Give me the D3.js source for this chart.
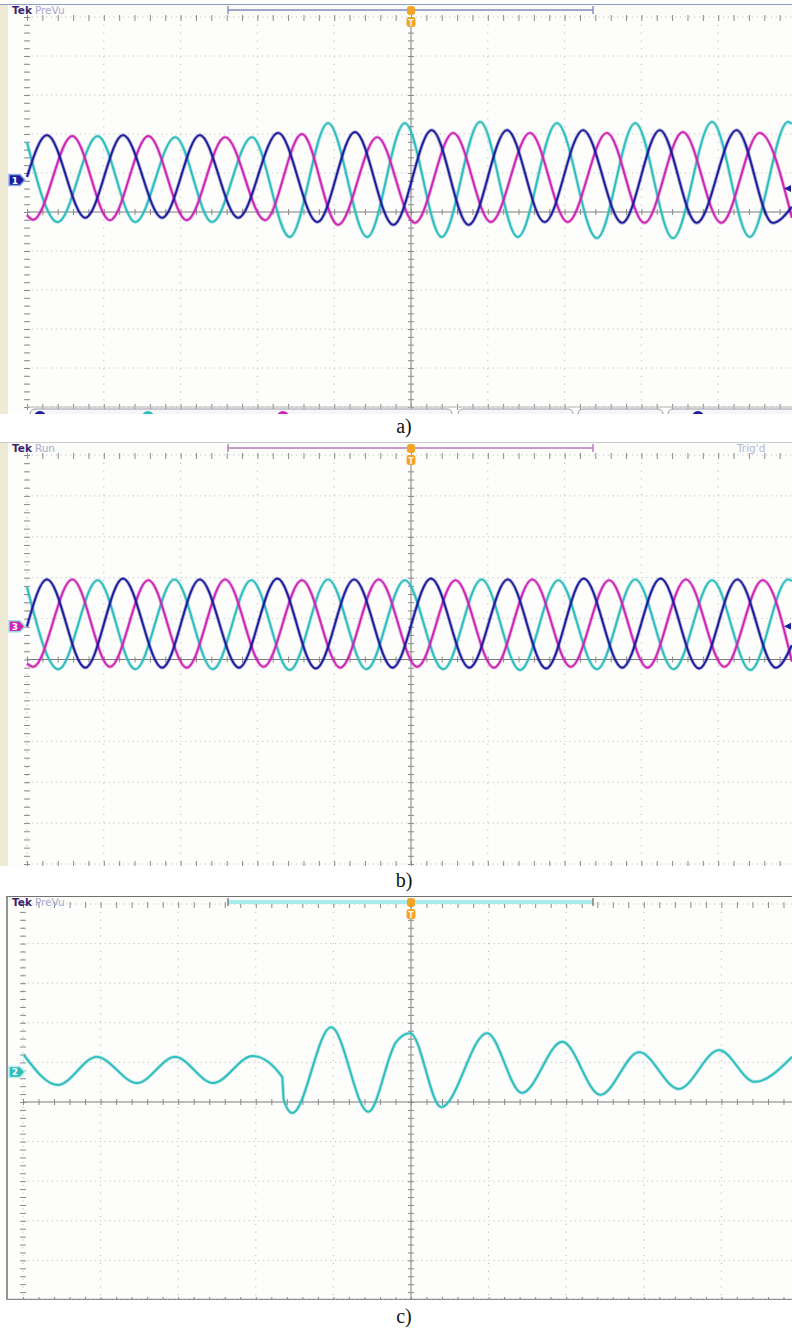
<!DOCTYPE html>
<html>
<head>
<meta charset="utf-8">
<script src="https://cdn.jsdelivr.net/npm/d3@7"></script>
<style>
  body { margin: 0; background: #fff; }
  svg { display: block; }
</style>
</head>
<body>
<div id="scope"></div>
<script>
// Trace points: [time in divisions, level in divisions from centre]
// a) three phases, ch2 (cyan) changes at ~3.35 div
const aCh1 = [[0,0.90],[0.26,1.97],[0.76,-0.15],[1.25,1.97],[1.76,-0.15],[2.25,1.97],[2.75,-0.15],[3.27,2.03],[3.78,-0.26],[4.27,2.05],[4.77,-0.33],[5.27,2.10],[5.75,-0.33],[6.25,2.10],[6.74,-0.26],[7.24,2.10],[7.75,-0.28],[8.24,2.10],[8.72,-0.28],[9.24,2.10],[9.71,-0.28],[9.96,0.13]]
const aCh2 = [[0,1.79],[0.40,-0.26],[0.92,1.95],[1.41,-0.26],[1.93,1.92],[2.41,-0.26],[2.93,1.92],[3.42,-0.64],[3.92,2.28],[4.43,-0.64],[4.92,2.28],[5.40,-0.64],[5.90,2.31],[6.39,-0.64],[6.90,2.28],[7.42,-0.67],[7.92,2.28],[8.41,-0.67],[8.92,2.31],[9.41,-0.64],[9.91,2.31],[9.96,2.26]]
const aCh3 = [[0,-0.08],[0.08,-0.20],[0.59,1.95],[1.08,-0.21],[1.58,1.95],[2.08,-0.21],[2.58,1.92],[3.10,-0.21],[3.58,2.00],[4.05,-0.33],[4.56,1.92],[5.05,-0.28],[5.55,2.03],[6.04,-0.26],[6.55,2.03],[7.04,-0.26],[7.55,2.03],[8.04,-0.28],[8.54,2.05],[9.04,-0.28],[9.54,2.03],[9.96,-0.15]]

// b) balanced three phases
const bCh1 = [[0,0.81],[0.26,1.96],[0.76,-0.20],[1.25,1.98],[1.76,-0.20],[2.25,1.96],[2.76,-0.20],[3.26,1.98],[3.76,-0.22],[4.26,1.96],[4.76,-0.20],[5.26,1.98],[5.76,-0.20],[6.26,1.96],[6.76,-0.22],[7.25,1.98],[7.75,-0.20],[8.25,1.98],[8.75,-0.22],[9.25,1.96],[9.75,-0.20],[9.96,0.35]]
const bCh2 = [[0,1.77],[0.41,-0.24],[0.92,1.94],[1.41,-0.24],[1.92,1.96],[2.42,-0.24],[2.92,1.94],[3.42,-0.26],[3.92,1.96],[4.42,-0.24],[4.92,1.94],[5.42,-0.24],[5.92,1.96],[6.42,-0.26],[6.92,1.94],[7.42,-0.24],[7.92,1.96],[8.42,-0.24],[8.92,1.94],[9.42,-0.26],[9.91,1.96],[9.96,1.92]]
const bCh3 = [[0,-0.10],[0.08,-0.18],[0.59,1.96],[1.08,-0.18],[1.58,1.94],[2.08,-0.20],[2.58,1.96],[3.08,-0.18],[3.58,1.94],[4.08,-0.20],[4.58,1.96],[5.08,-0.18],[5.58,1.94],[6.08,-0.20],[6.58,1.96],[7.08,-0.18],[7.58,1.94],[8.08,-0.20],[8.58,1.96],[9.08,-0.18],[9.58,1.94],[9.96,-0.05]]

// c) single channel with the step
const cCh2 = [[0.01,1.19],[0.45,0.43],[0.95,1.14],[1.47,0.48],[1.96,1.14],[2.45,0.48],[2.96,1.16],[3.34,0.63],[3.36,0.05],[3.47,-0.28],[3.97,1.89],[4.45,-0.25],[4.81,1.52],[4.99,1.74],[5.39,-0.13],[5.98,1.74],[6.43,0.23],[6.95,1.52],[7.44,0.18],[7.94,1.26],[8.45,0.33],[8.97,1.31],[9.43,0.51],[9.91,1.14]]

// channel ground markers (divisions)
const markerLevels = [0.82, 0.81, 0.76]
const markerText = ["1", "3", "2"]
const panelLabels = ["a)", "b)", "c)"]
const panelStates = ["PreVu", "Run", "PreVu"]

const divsX = d3.range(0, 11)
const divsY = d3.range(-5, 6)
const minorX = d3.range(0, 10.01, 0.2)
const minorY = d3.range(-5, 5.01, 0.2)

const colors = { ch1: "#1c1c9c", ch2: "#2dbdbd", ch3: "#cc25b4" }

const width = 792
const height = 1330

const panels = [
    { frameTop: 4, frameBottom: 414, left: 27, top: 17, divW: 76.8, divH: 39,
      labelY: 433, bar: "#7f8abf", barWide: false, strip: true, edge: "#8e9cc8",
      markerFill: colors.ch1, markerStroke: "#8fb0e8",
      traces: [[aCh2, colors.ch2], [aCh3, colors.ch3], [aCh1, colors.ch1]] },
    { frameTop: 442, frameBottom: 866, left: 27, top: 455, divW: 76.8, divH: 40.9,
      labelY: 887, bar: "#b07ab8", barWide: false, strip: true, edge: "#c9c9d2",
      markerFill: colors.ch3, markerStroke: "#9fe0e0",
      traces: [[bCh2, colors.ch2], [bCh3, colors.ch3], [bCh1, colors.ch1]] },
    { frameTop: 896, frameBottom: 1300, left: 23, top: 904, divW: 77.6, divH: 39.6,
      labelY: 1323, bar: "#a8ecec", barWide: true, strip: false, edge: "#707070",
      markerFill: colors.ch2, markerStroke: "#bff0f0",
      traces: [[cCh2, colors.ch2]] },
]

const svg = d3.select("#scope")
    .append("svg")
    .attr("width", width)
    .attr("height", height)

svg.append("rect")
    .attr("width", width)
    .attr("height", height)
    .attr("fill", "#fff")

function drawPanel(p, i) {
    const xScale = d3.scaleLinear()
        .domain([0, 10])
        .range([p.left, p.left + 10 * p.divW])
    const yScale = d3.scaleLinear()
        .domain([-5, 5])
        .range([p.top + 10 * p.divH, p.top])

    svg.append("clipPath")
        .attr("id", "clip" + i)
        .append("rect")
        .attr("x", 0)
        .attr("y", p.frameTop)
        .attr("width", width)
        .attr("height", p.frameBottom - p.frameTop)

    const g = svg.append("g")
        .attr("clip-path", `url(#clip${i})`)

    g.append("rect")
        .attr("x", 0)
        .attr("y", p.frameTop)
        .attr("width", width)
        .attr("height", p.frameBottom - p.frameTop)
        .attr("fill", "#fdfdfc")

    if (p.strip) {
        g.append("rect")
            .attr("x", 0).attr("y", p.frameTop)
            .attr("width", 8).attr("height", p.frameBottom - p.frameTop)
            .attr("fill", "#eeead6")
    } else {
        g.append("line")
            .attr("x1", 7).attr("x2", 7)
            .attr("y1", p.frameTop).attr("y2", p.frameBottom)
            .attr("stroke", p.edge).attr("stroke-width", 1.5)
        g.append("line")
            .attr("x1", 7).attr("x2", width)
            .attr("y1", p.frameBottom - 0.5).attr("y2", p.frameBottom - 0.5)
            .attr("stroke", "#8a8a8a").attr("stroke-width", 1.5)
    }

    g.append("line")
        .attr("x1", p.strip ? 0 : 7).attr("x2", width)
        .attr("y1", p.frameTop + 0.5).attr("y2", p.frameTop + 0.5)
        .attr("stroke", p.edge).attr("stroke-width", 1.2)

    // dotted graticule
    g.append("g").selectAll("line")
        .data(divsX.filter(d => d !== 5))
        .join("line")
        .attr("x1", d => xScale(d)).attr("x2", d => xScale(d))
        .attr("y1", yScale(5)).attr("y2", yScale(-5))
        .attr("stroke", "#b9b9b9")
        .attr("stroke-dasharray", "1.2,6.6")
    g.append("g").selectAll("line")
        .data(divsY.filter(d => d !== 0))
        .join("line")
        .attr("x1", xScale(0)).attr("x2", xScale(10))
        .attr("y1", d => yScale(d)).attr("y2", d => yScale(d))
        .attr("stroke", "#c2c2c2")
        .attr("stroke-dasharray", "1.2,3.6")

    // centre cross with minor ticks
    g.append("line")
        .attr("x1", xScale(0)).attr("x2", xScale(10))
        .attr("y1", yScale(0)).attr("y2", yScale(0))
        .attr("stroke", "#7c7c7c")
    g.append("line")
        .attr("x1", xScale(5)).attr("x2", xScale(5))
        .attr("y1", yScale(5)).attr("y2", yScale(-5))
        .attr("stroke", "#7c7c7c")

    const tickX = d3.axisBottom(xScale).tickValues(minorX).tickSize(6).tickFormat("")
    const tickY = d3.axisLeft(yScale).tickValues(minorY).tickSize(6).tickFormat("")

    const edgeRows = [yScale(0), yScale(5) + 1, yScale(-5)]
    edgeRows.forEach(yy => {
        g.append("g")
            .attr("transform", `translate(0,${yy - 3})`)
            .call(tickX)
            .call(a => a.select(".domain").remove())
            .call(a => a.selectAll("line").attr("stroke", "#8a8a8a"))
    })
    const edgeCols = [xScale(5), xScale(0)]
    edgeCols.forEach(xx => {
        g.append("g")
            .attr("transform", `translate(${xx + 3},0)`)
            .call(tickY)
            .call(a => a.select(".domain").remove())
            .call(a => a.selectAll("line").attr("stroke", "#8a8a8a"))
    })
    if (i === 0) {
        g.append("line")
            .attr("x1", xScale(0)).attr("x2", width)
            .attr("y1", yScale(-5)).attr("y2", yScale(-5))
            .attr("stroke", "#b8b8b8")
    }

    // header
    g.append("rect")
        .attr("x", p.strip ? 8 : 8).attr("y", p.frameTop + 1)
        .attr("width", width).attr("height", p.top - p.frameTop - 3)
        .attr("fill", "#fbfbf8")
    const header = g.append("text")
        .attr("x", 12)
        .attr("y", p.frameTop + 10)
        .attr("font-family", "DejaVu Sans")
        .attr("font-size", 10.5)
    header.append("tspan")
        .attr("font-weight", "bold")
        .attr("fill", "#3b1f6e")
        .text("Tek")
    header.append("tspan")
        .attr("dx", 3)
        .attr("fill", "#a9a9d2")
        .text(panelStates[i])
    if (i === 1) {
        g.append("text")
            .attr("x", 737).attr("y", p.frameTop + 10)
            .attr("font-family", "DejaVu Sans").attr("font-size", 10.5)
            .attr("fill", "#b8b8d8")
            .text("Trig'd")
    }

    // record view bracket
    const barY = p.frameTop + 6
    g.append("line")
        .attr("x1", 228).attr("x2", 593)
        .attr("y1", barY).attr("y2", barY)
        .attr("stroke", p.bar)
        .attr("stroke-width", p.barWide ? 4 : 1.4)
    ;[228, 593].forEach(xx => {
        g.append("line")
            .attr("x1", xx).attr("x2", xx)
            .attr("y1", barY - 4).attr("y2", barY + 4)
            .attr("stroke", p.barWide ? "#777" : p.bar)
            .attr("stroke-width", 1.4)
    })

    // trigger position marker
    const tx = xScale(5)
    g.append("rect")
        .attr("x", tx - 4).attr("y", p.frameTop + 2)
        .attr("width", 8).attr("height", 9).attr("rx", 3)
        .attr("fill", "#f3a424")
    g.append("rect")
        .attr("x", tx - 4.5).attr("y", p.frameTop + 13)
        .attr("width", 9).attr("height", 10).attr("rx", 3)
        .attr("fill", "#f3a424")
    g.append("text")
        .attr("x", tx).attr("y", p.frameTop + 21.5)
        .attr("text-anchor", "middle")
        .attr("font-family", "DejaVu Sans").attr("font-size", 8).attr("font-weight", "bold")
        .attr("fill", "#fff5dd")
        .text("T")

    // traces
    const lineGenerator = d3.line()
        .x(d => xScale(d[0]))
        .y(d => yScale(d[1]))
        .curve(d3.curveMonotoneX)

    p.traces.forEach(([data, color]) => {
        g.append("path")
            .datum(data)
            .attr("d", lineGenerator)
            .attr("fill", "none")
            .attr("stroke", color)
            .attr("stroke-opacity", 0.35)
            .attr("stroke-width", 3.6)
        g.append("path")
            .datum(data)
            .attr("d", lineGenerator)
            .attr("fill", "none")
            .attr("stroke", color)
            .attr("stroke-width", 1.9)
            .attr("stroke-linejoin", "round")
    })

    // channel marker at the left
    const my = yScale(markerLevels[i])
    g.append("path")
        .attr("d", `M9,${my - 5.5} H20 L25,${my} L20,${my + 5.5} H9 Z`)
        .attr("fill", p.markerFill)
        .attr("stroke", p.markerStroke)
        .attr("stroke-width", 1.5)
    g.append("text")
        .attr("x", 15).attr("y", my + 3.5)
        .attr("text-anchor", "middle")
        .attr("font-family", "DejaVu Sans").attr("font-size", 9).attr("font-weight", "bold")
        .attr("fill", "#fff")
        .text(markerText[i])

    if (i < 2) {
        // reference arrow on the right
        const ry = yScale(i === 0 ? 0.6 : 0.81)
        g.append("path")
            .attr("d", `M784,${ry} L791,${ry - 3.5} L791,${ry + 3.5} Z`)
            .attr("fill", colors.ch1)
    }

    if (i === 0) {
        // status readout boxes, cut off at the bottom of the capture
        const boxes = [[30, 452], [458, 573], [578, 663], [668, 800]]
        g.selectAll(".box")
            .data(boxes)
            .join("rect")
            .attr("x", d => d[0]).attr("y", 409)
            .attr("width", d => d[1] - d[0]).attr("height", 16).attr("rx", 5)
            .attr("fill", "#f6f6f8").attr("stroke", "#9a9aa8")
        const dots = [[40, colors.ch1], [148, colors.ch2], [283, colors.ch3], [698, colors.ch1]]
        g.selectAll(".dot")
            .data(dots)
            .join("circle")
            .attr("cx", d => d[0]).attr("cy", 417).attr("r", 6)
            .attr("fill", d => d[1])
    }

    svg.append("text")
        .attr("x", 404)
        .attr("y", p.labelY)
        .attr("text-anchor", "middle")
        .attr("font-family", "Liberation Serif, DejaVu Serif, serif")
        .attr("font-size", 20)
        .attr("fill", "#111")
        .text(panelLabels[i])
}

panels.forEach(drawPanel)
</script>
</body>
</html>
